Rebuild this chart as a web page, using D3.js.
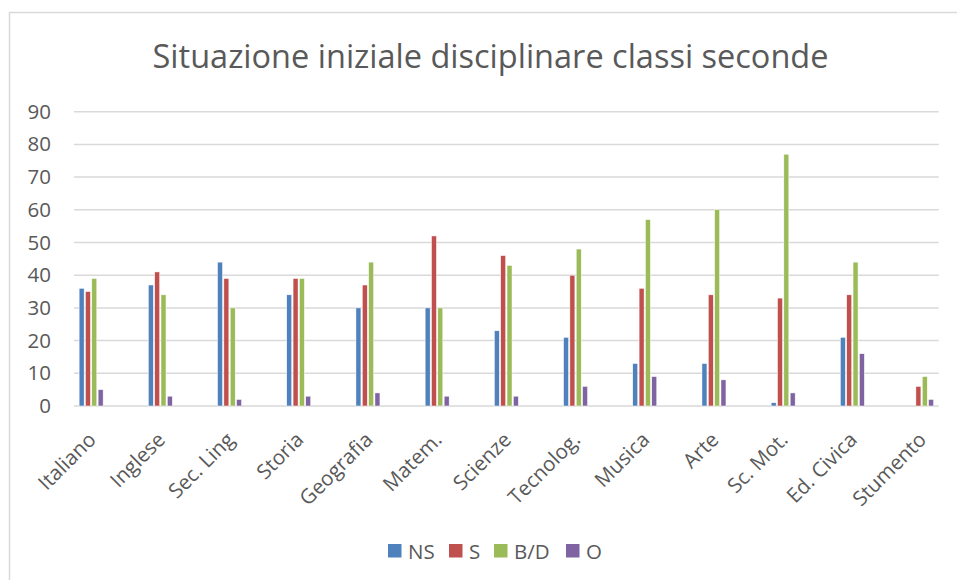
<!DOCTYPE html>
<html>
<head>
<meta charset="UTF-8">
<script src="https://cdn.jsdelivr.net/npm/d3@7"></script>
<style>
  body { margin: 0; background: #fff; }
  text { font-family: "Open Sans", sans-serif; fill: #595959; }
</style>
</head>
<body>
<div id="chart"></div>
<script>
const categories = ["Italiano", "Inglese", "Sec. Ling", "Storia", "Geografia", "Matem.",
  "Scienze", "Tecnolog.", "Musica", "Arte", "Sc. Mot.", "Ed. Civica", "Stumento"];
const series = ["NS", "S", "B/D", "O"];
const colors = ["#4F81BD", "#C0504D", "#9BBB59", "#8064A2"];
const valuesNS = [36, 37, 44, 34, 30, 30, 23, 21, 13, 13, 1, 21, 0];
const valuesS  = [35, 41, 39, 39, 37, 52, 46, 40, 36, 34, 33, 34, 6];
const valuesBD = [39, 34, 30, 39, 44, 30, 43, 48, 57, 60, 77, 44, 9];
const valuesO  = [5, 3, 2, 3, 4, 3, 3, 6, 9, 8, 4, 16, 2];
const yTicks = [0, 10, 20, 30, 40, 50, 60, 70, 80, 90];
const title = "Situazione iniziale disciplinare classi seconde";

const width = 957, height = 580;
const seriesValues = [valuesNS, valuesS, valuesBD, valuesO];

const svg = d3.select("#chart").append("svg")
  .attr("width", width).attr("height", height);

// cornice del grafico
svg.append("rect")
  .attr("x", 9.5).attr("y", 12.5)
  .attr("width", 960).attr("height", 580)
  .attr("fill", "none").attr("stroke", "#d9d9d9").attr("stroke-width", 1.5);

svg.append("text")
  .attr("x", 490.5).attr("y", 68)
  .attr("text-anchor", "middle")
  .style("font-size", "32.5px")
  .text(title);

const plot = { left: 74, right: 938.7, top: 111.7, bottom: 406 };

const y = d3.scaleLinear().domain([0, 90]).range([plot.bottom, plot.top]);
const x0 = d3.scaleBand().domain(categories)
  .range([plot.left, plot.right])
  .paddingInner(0.653).paddingOuter(0.074);
const x1 = d3.scaleBand().domain(series)
  .range([0, x0.bandwidth()])
  .paddingInner(0.21);

// griglia
svg.append("g")
  .selectAll("line")
  .data(yTicks)
  .join("line")
  .attr("x1", plot.left).attr("x2", plot.right)
  .attr("y1", d => y(d)).attr("y2", d => y(d))
  .attr("stroke", "#d9d9d9").attr("stroke-width", 1.5);

// asse y
const yAxis = svg.append("g")
  .attr("transform", `translate(${plot.left - 23},0)`)
  .call(d3.axisLeft(y).tickValues(yTicks).tickSize(0).tickPadding(0));
yAxis.select(".domain").remove();
yAxis.selectAll("text")
  .style("font-size", "20.5px")
  .style("font-family", "'Open Sans', sans-serif")
  .attr("fill", "#595959");

// barre
const groups = svg.append("g")
  .selectAll("g")
  .data(categories)
  .join("g")
  .attr("transform", d => `translate(${x0(d)},0)`);

groups.selectAll("rect")
  .data((d, i) => series.map((s, j) => ({ s: s, v: seriesValues[j][i], c: colors[j] })))
  .join("rect")
  .attr("x", d => x1(d.s))
  .attr("width", x1.bandwidth())
  .attr("y", d => y(d.v))
  .attr("height", d => y(0) - y(d.v))
  .attr("fill", d => d.c)
  .attr("stroke", "#fff").attr("stroke-width", 0.5);

// asse x
const xAxis = svg.append("g")
  .attr("transform", `translate(0,${plot.bottom})`)
  .call(d3.axisBottom(x0).tickSize(0).tickPadding(0));
xAxis.select(".domain").remove();
xAxis.selectAll("text")
  .style("font-size", "20.5px")
  .style("font-family", "'Open Sans', sans-serif")
  .attr("fill", "#595959")
  .attr("text-anchor", "end")
  .attr("dy", 0)
  .attr("y", 0)
  .attr("transform", "translate(6,35) rotate(-45)");

// legenda
const legendX = [388, 449, 494, 566];
const legend = svg.append("g")
  .selectAll("g")
  .data(series)
  .join("g")
  .attr("transform", (d, i) => `translate(${legendX[i]},544)`);
legend.append("rect")
  .attr("width", 13.5).attr("height", 13.5)
  .attr("fill", (d, i) => colors[i]);
legend.append("text")
  .attr("x", 20).attr("y", 14.5)
  .style("font-size", "20.5px")
  .text(d => d);
</script>
</body>
</html>
